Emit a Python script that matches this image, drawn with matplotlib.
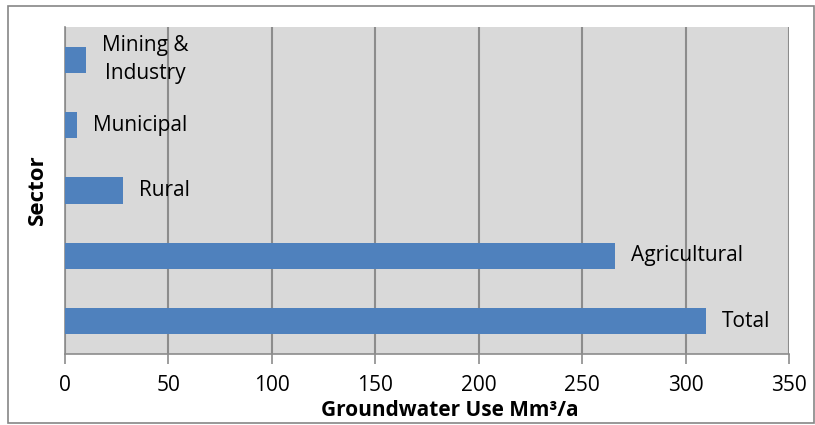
import matplotlib.pyplot as plt
from matplotlib.patches import Rectangle

# sector groundwater use, Mm3/a (bottom to top)
sectors = ['Total', 'Agricultural', 'Rural', 'Municipal', 'Mining &\nIndustry']
use_mm3 = [310, 266, 28, 6, 10]
x_ticks = [0, 50, 100, 150, 200, 250, 300, 350]

plt.rcParams['font.family'] = ['Open Sans', 'DejaVu Sans']

fig = plt.figure(figsize=(8.15, 4.25), dpi=100)
ax = fig.add_axes([65 / 815, 1 - 354 / 425, 724 / 815, 327 / 425])

# outer chart border
fig.patches.append(Rectangle((8 / 815, 2 / 425), 806 / 815, 417 / 425,
                             transform=fig.transFigure, fill=False,
                             edgecolor='#868686', linewidth=1.2))

ax.set_facecolor('#d9d9d9')
pos = list(range(len(sectors)))
ax.barh(pos, use_mm3, height=0.4, color='#4f81bd', zorder=3)

for y, v, name in zip(pos, use_mm3, sectors):
    ax.annotate(name, (v, y), xytext=(16, 0), textcoords='offset pixels',
                ha='left', va='center', multialignment='center', linespacing=1.45,
                fontsize=15, zorder=4)

ax.set_xlim(0, 350)
ax.set_ylim(-0.5, len(sectors) - 0.5)
ax.set_xticks(x_ticks)
ax.set_yticks([])
ax.tick_params(axis='x', direction='out', length=7, width=1.2, color='#8c8c8c',
               labelsize=15, pad=8)
ax.grid(axis='x', color='#8c8c8c', linewidth=1.5, zorder=1)

for side in ['top', 'right']:
    ax.spines[side].set_visible(False)
for side in ['left', 'bottom']:
    ax.spines[side].set_color('#8c8c8c')
    ax.spines[side].set_linewidth(1.2)

fig.text(450 / 815, 1 - 410 / 425, 'Groundwater Use Mm³/a', ha='center', va='center',
         fontsize=15, fontweight='bold')
fig.text(37 / 815, 1 - 190 / 425, 'Sector', ha='center', va='center', rotation=90,
         fontsize=16, fontweight='bold')

fig.savefig('out.png', dpi=100)
